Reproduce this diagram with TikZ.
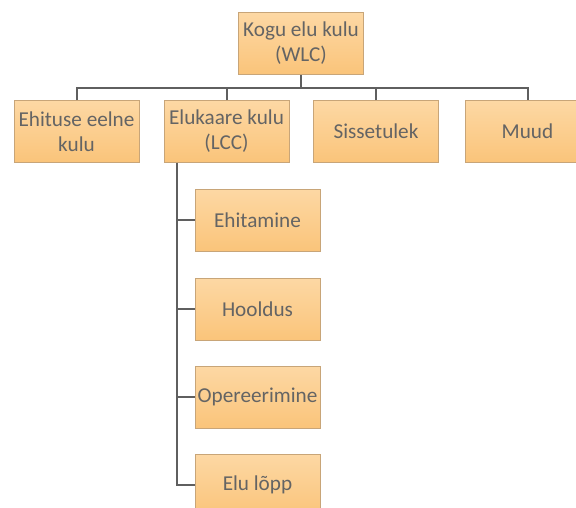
\documentclass[tikz,border=0pt]{standalone}
\usepackage{fontspec}
\setmainfont{Carlito}
\definecolor{boxtop}{RGB}{253,216,164}
\definecolor{boxbot}{RGB}{250,196,122}
\definecolor{boxline}{RGB}{200,165,120}
\definecolor{txt}{RGB}{100,100,100}
\definecolor{conn}{RGB}{95,95,95}
\begin{document}
\begin{tikzpicture}[x=1pt,y=-1pt,
  box/.style={rectangle, draw=boxline, line width=1pt, top color=boxtop, bottom color=boxbot,
    minimum width=125pt, minimum height=62pt, inner sep=1pt, align=center, text=txt,
    font=\fontsize{21.2}{25}\selectfont},
  link/.style={draw=conn, line width=2pt}]
\useasboundingbox (0,0) rectangle (576,507);
\clip (0,0) rectangle (576,507);
\node[box] (wlc) at (301,43.5) {Kogu elu kulu\\(WLC)};
\node[box] (pre) at (76.5,131.5) {Ehituse eelne\\kulu};
\node[box] (lcc) at (226.5,131.5) {Elukaare kulu\\(LCC)};
\node[box] (inc) at (376,131.5) {Sissetulek};
\node[box] (oth) at (527.5,131.5) {Muud};
\node[box] (c1) at (257.5,220) {Ehitamine};
\node[box] (c2) at (257.5,309) {Hooldus};
\node[box] (c3) at (257.5,397) {Opereerimine};
\node[box] (c4) at (257.5,485) {Elu lõpp};
\coordinate (bus) at (301,88);
\draw[link] (wlc.south) -- (bus);
\draw[link] (pre.north) |- (bus) -| (oth.north);
\draw[link] (lcc.north) -- (lcc.north |- bus);
\draw[link] (inc.north) -- (inc.north |- bus);
\coordinate (spine) at (177,162.5);
\draw[link] (spine) |- (c4.west);
\draw[link] (c1.west) -- (c1.west -| spine);
\draw[link] (c2.west) -- (c2.west -| spine);
\draw[link] (c3.west) -- (c3.west -| spine);
\end{tikzpicture}
\end{document}
